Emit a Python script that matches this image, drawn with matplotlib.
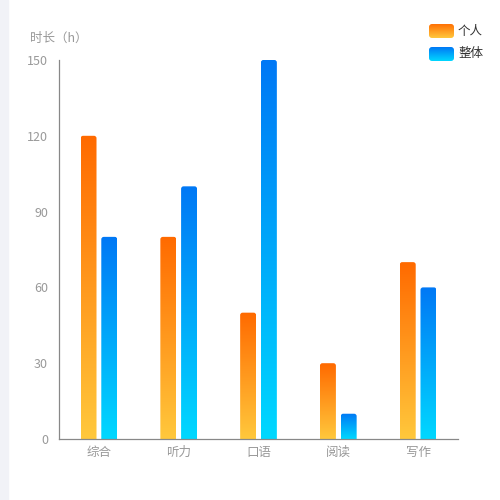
import matplotlib
matplotlib.use("Agg")
import matplotlib.pyplot as plt
import numpy as np
from matplotlib.patches import FancyBboxPatch, Rectangle
from matplotlib.colors import LinearSegmentedColormap

plt.rcParams['font.family'] = ['Noto Sans CJK SC', 'DejaVu Sans']

categories = ['综合', '听力', '口语', '阅读', '写作']
personal = [120, 80, 50, 30, 70]
overall = [80, 100, 150, 10, 60]
series_names = ['个人', '整体']
yticks = [0, 30, 60, 90, 120, 150]

orange_cmap = LinearSegmentedColormap.from_list('o', ['#ffc83c', '#ff6a00'])
blue_cmap = LinearSegmentedColormap.from_list('b', ['#00d8ff', '#0078f5'])

fig = plt.figure(figsize=(5, 5), dpi=100)
fig.patches.append(Rectangle((0, 0), 8/500, 1, transform=fig.transFigure,
                             color='#f1f2f7', zorder=-1))
ax = fig.add_axes([59/500, 61/500, 399/500, 379/500])

x = np.arange(len(categories))
w = 0.2
off = 0.13
b1 = ax.bar(x - off, personal, w, alpha=0)
b2 = ax.bar(x + off, overall, w, alpha=0)

ax.set_xlim(-0.5, len(categories) - 0.5)
ax.set_ylim(0, 150)

xpp = (len(categories)) / 399
ypp = 150 / 379
asp = ypp / xpp
grad = np.linspace(0, 1, 256).reshape(-1, 1)

for bars, cmap in ((b1, orange_cmap), (b2, blue_cmap)):
    for r in bars:
        x0, y0 = r.get_x(), r.get_y()
        bw, bh = r.get_width(), r.get_height()
        patch = FancyBboxPatch((x0, y0 - 5), bw, bh + 5,
                               boxstyle=f"round,pad=0,rounding_size={2.5*xpp}",
                               mutation_aspect=asp, transform=ax.transData,
                               facecolor='none', edgecolor='none')
        ax.add_patch(patch)
        im = ax.imshow(grad, cmap=cmap, origin='lower', aspect='auto',
                       extent=(x0, x0 + bw, 0, bh), zorder=2)
        im.set_clip_path(patch)

ax.set_xlim(-0.5, len(categories) - 0.5)
ax.set_ylim(0, 150)
ax.set_yticks(yticks)
ax.set_xticks(x)
ax.set_xticklabels(categories)
ax.tick_params(axis='both', length=0, colors='#999999', labelsize=9)
ax.tick_params(axis='y', pad=8)
ax.tick_params(axis='x', pad=5)
for s in ('top', 'right'):
    ax.spines[s].set_visible(False)
for s in ('left', 'bottom'):
    ax.spines[s].set_color('#888888')
    ax.spines[s].set_linewidth(0.9)

fig.text(30/500, 1 - 38/500, '时长（h）', color='#999999', fontsize=9,
         ha='left', va='center')

# legend
for i, (name, cmap) in enumerate(zip(series_names, (orange_cmap, blue_cmap))):
    yc = 1 - (31 + 23 * i) / 500
    lax = fig.add_axes([429/500, yc - 7/500, 25/500, 14/500])
    lax.set_xlim(0, 1); lax.set_ylim(0, 1)
    lax.axis('off')
    p = FancyBboxPatch((0, 0), 1, 1, boxstyle="round,pad=0,rounding_size=0.12",
                       mutation_aspect=25/14, transform=lax.transData,
                       facecolor='none', edgecolor='none')
    lax.add_patch(p)
    im = lax.imshow(grad, cmap=cmap, origin='lower', aspect='auto',
                    extent=(0, 1, 0, 1))
    im.set_clip_path(p)
    fig.text(458/500, yc, name, color='#333333', fontsize=9, ha='left', va='center')

fig.savefig('out.png', dpi=100)
